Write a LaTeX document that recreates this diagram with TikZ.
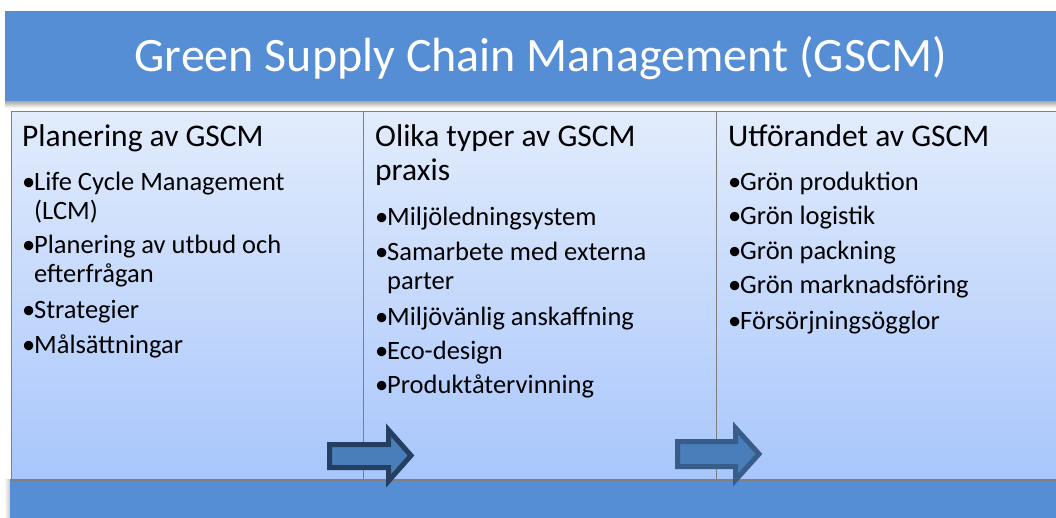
\documentclass[tikz,border=0pt]{standalone}
\usepackage{fontspec}
\setmainfont{Carlito}
\definecolor{bannerblue}{HTML}{558ED5}
\definecolor{coltop}{HTML}{E2ECFC}
\definecolor{colbot}{HTML}{A8C6FC}
\definecolor{colborder}{HTML}{7F7F7F}
\definecolor{arrfill}{HTML}{4A7EBB}
\definecolor{arrdark}{HTML}{243F60}
\definecolor{arrmid}{HTML}{385D8A}
\definecolor{shadowgray}{HTML}{A6A6A6}
\newcommand\bulmark{\makebox[12pt][l]{\textbullet}}
\begin{document}
\begin{tikzpicture}[x=1pt,y=-1pt,
  bar/.style={fill=bannerblue, draw=none, inner sep=0pt, anchor=north west},
  column/.style={top color=coltop, bottom color=colbot, draw=colborder, line width=1pt, inner sep=0pt, anchor=north west, minimum height=368pt},
  hd/.style={anchor=base west, inner sep=0pt, font=\fontsize{31.5}{34}\selectfont},
  tx/.style={anchor=base west, inner sep=0pt, font=\fontsize{26.5}{29}\selectfont},
  arrowshape/.style={fill=arrfill, line width=5pt, line join=miter}
]
\useasboundingbox (0,0) rectangle (1056,518);
\fill[white] (0,0) rectangle (1056,518);
% banner shadow
\shade[top color=shadowgray, bottom color=white] (5,101) rectangle (1056,108);
\shade[left color=white, right color=shadowgray!60] (4,479) rectangle (10,518);
% banner
\node[bar, minimum width=1051pt, minimum height=90pt] (banner) at (5,11) {};
\node[anchor=base, inner sep=0pt, text=white, font=\fontsize{48}{56}\selectfont] (title) at (541,72) {Green Supply Chain Management (GSCM)};
% columns
\node[column, minimum width=352pt] (c1) at (11,111) {};
\node[column, minimum width=353pt] (c2) at (363,111) {};
\node[column, minimum width=346pt] (c3) at (716,111) {};
% bottom bar
\node[bar, minimum width=1046pt, minimum height=40pt] (bottom) at (10,479) {};
\draw[colborder, line width=1.2pt] (c1.south west) -- (c3.south east);
% column 1
\node[hd] (h1) at (22,147) {Planering av GSCM};
\node[tx] (a1) at (22,191) {\bulmark Life Cycle Management};
\node[tx] (a1b) at (34,220) {(LCM)};
\node[tx] (a2) at (22,254) {\bulmark Planering av utbud och};
\node[tx] (a2b) at (34,283) {efterfrågan};
\node[tx] (a3) at (22,318) {\bulmark Strategier};
\node[tx] (a4) at (22,353) {\bulmark Målsättningar};
% column 2
\node[hd] (h2) at (375,147) {Olika typer av GSCM};
\node[hd] (h2b) at (375,181) {praxis};
\node[tx] (b1) at (375,226) {\bulmark Miljöledningsystem};
\node[tx] (b2) at (375,261) {\bulmark Samarbete med externa};
\node[tx] (b2b) at (387,290) {parter};
\node[tx] (b3) at (375,325) {\bulmark Miljövänlig anskaffning};
\node[tx] (b4) at (375,359) {\bulmark Eco-design};
\node[tx] (b5) at (375,393) {\bulmark Produktåtervinning};
% column 3
\node[hd] (h3) at (728,147) {Utförandet av GSCM};
\node[tx] (d1) at (728,191) {\bulmark Grön produktion};
\node[tx] (d2) at (728,225) {\bulmark Grön logistik};
\node[tx] (d3) at (728,260) {\bulmark Grön packning};
\node[tx] (d4) at (728,294) {\bulmark Grön marknadsföring};
\node[tx] (d5) at (728,329) {\bulmark Försörjningsögglor};
% arrows
\draw[arrowshape, draw=arrdark] (329.5,444.5) -- (388.5,444.5) -- (388.5,430) -- (411,455.5) -- (388.5,481) -- (388.5,467.5) -- (329.5,467.5) -- cycle;
\draw[arrowshape, draw=arrmid] (677.5,441.5) -- (735.5,441.5) -- (735.5,428) -- (759,454) -- (735.5,480) -- (735.5,466.5) -- (677.5,466.5) -- cycle;
\end{tikzpicture}
\end{document}
